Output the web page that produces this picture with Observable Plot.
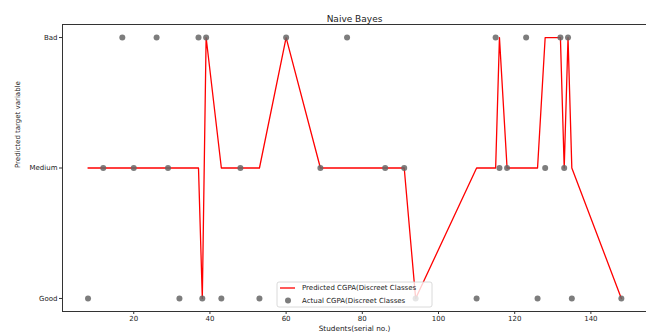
<!DOCTYPE html>
<html>
<head>
<meta charset="utf-8">
<script src="https://cdn.jsdelivr.net/npm/d3@7"></script>
<script src="https://cdn.jsdelivr.net/npm/@observablehq/plot@0.6"></script>
<style>
  html, body { margin: 0; padding: 0; background: white; }
  #chart { width: 646px; height: 335px; overflow: hidden; }
</style>
</head>
<body>
<div id="chart"></div>
<script>
// Class categories (bottom to top)
const categories = ["Good", "Medium", "Bad"];
// Student serial numbers in the test set
const studentIds = [8, 12, 17, 20, 26, 29, 32, 37, 38, 39, 43, 48, 53, 60, 69, 76, 86, 91, 94, 110, 115, 116, 118, 123, 126, 128, 132, 133, 134, 135, 148];
// Actual class for each student
const actualClass = ["Good", "Medium", "Bad", "Medium", "Bad", "Medium", "Good", "Bad", "Good", "Bad", "Good", "Medium", "Good", "Bad", "Medium", "Bad", "Medium", "Medium", "Good", "Good", "Bad", "Medium", "Medium", "Bad", "Good", "Medium", "Bad", "Medium", "Bad", "Good", "Good"];
// Predicted class for each student
const predictedClass = ["Medium", "Medium", "Medium", "Medium", "Medium", "Medium", "Medium", "Medium", "Good", "Bad", "Medium", "Medium", "Medium", "Bad", "Medium", "Medium", "Medium", "Medium", "Good", "Medium", "Medium", "Bad", "Medium", "Medium", "Medium", "Bad", "Bad", "Medium", "Bad", "Medium", "Good"];
// Tick labels
const xTicks = [20, 40, 60, 80, 100, 120, 140];

const xDomain = [1.3, 154.6];
const yDomain = [-0.1, 2.1];

const data = studentIds.map((s, i) => ({
  s,
  actual: categories.indexOf(actualClass[i]),
  pred: categories.indexOf(predictedClass[i])
}));

const plot = Plot.plot({
  width: 646,
  height: 335,
  marginLeft: 62,
  marginRight: 0,
  marginTop: 24,
  marginBottom: 24,
  style: { fontFamily: "DejaVu Sans", fontSize: "7px", color: "#222", background: "white", overflow: "visible" },
  x: { domain: xDomain, label: null },
  y: { domain: yDomain, label: null },
  marks: [
    Plot.ruleX([xDomain[0]], { stroke: "#333", strokeWidth: 1 }),
    Plot.ruleY(yDomain, { stroke: "#333", strokeWidth: 1 }),
    Plot.line(data, { x: "s", y: "pred", stroke: "#ff0000", strokeWidth: 1.3 }),
    Plot.dot(data, { x: "s", y: "actual", r: 3, fill: "#666", fillOpacity: 0.85, stroke: "none" }),
    Plot.axisX({ ticks: xTicks, tickSize: 3, tickPadding: 2, label: null, fontSize: 7, stroke: "#333" }),
    Plot.axisY({ ticks: [0, 1, 2], tickFormat: i => categories[i], tickSize: 3, tickPadding: 2, label: null, fontSize: 7, stroke: "#333" }),
    Plot.text(["Naive Bayes"], { frameAnchor: "top", dy: -9, fontSize: 9, fill: "#222" }),
    Plot.text(["Students(serial no.)"], { frameAnchor: "bottom", dy: 19, fontSize: 7.3, fill: "#222" }),
    Plot.text(["Predicted target variable"], { frameAnchor: "left", dx: -45, rotate: -90, fontSize: 7, fill: "#222" })
  ]
});

document.getElementById("chart").appendChild(plot);

// Legend overlay (matplotlib-style, drawn on top of the axes)
const svg = d3.select(plot);
const lg = svg.append("g")
  .attr("font-family", "DejaVu Sans")
  .attr("font-size", 7)
  .attr("text-anchor", "start");
lg.append("rect")
  .attr("x", 277).attr("y", 282).attr("width", 155).attr("height", 25)
  .attr("rx", 2).attr("fill", "white").attr("fill-opacity", 0.8)
  .attr("stroke", "#d0d0d0").attr("stroke-width", 0.8);
lg.append("line")
  .attr("x1", 280).attr("x2", 295).attr("y1", 288).attr("y2", 288)
  .attr("stroke", "#ff0000").attr("stroke-width", 1.3);
lg.append("circle")
  .attr("cx", 288).attr("cy", 300.5).attr("r", 3)
  .attr("fill", "#666").attr("fill-opacity", 0.85);
lg.append("text").attr("x", 302).attr("y", 288).attr("dy", "0.35em").attr("fill", "#222")
  .attr("text-anchor", "start")
  .text("Predicted CGPA(Discreet Classes");
lg.append("text").attr("x", 302).attr("y", 300.5).attr("dy", "0.35em").attr("fill", "#222")
  .attr("text-anchor", "start")
  .text("Actual CGPA(Discreet Classes");
</script>
</body>
</html>
